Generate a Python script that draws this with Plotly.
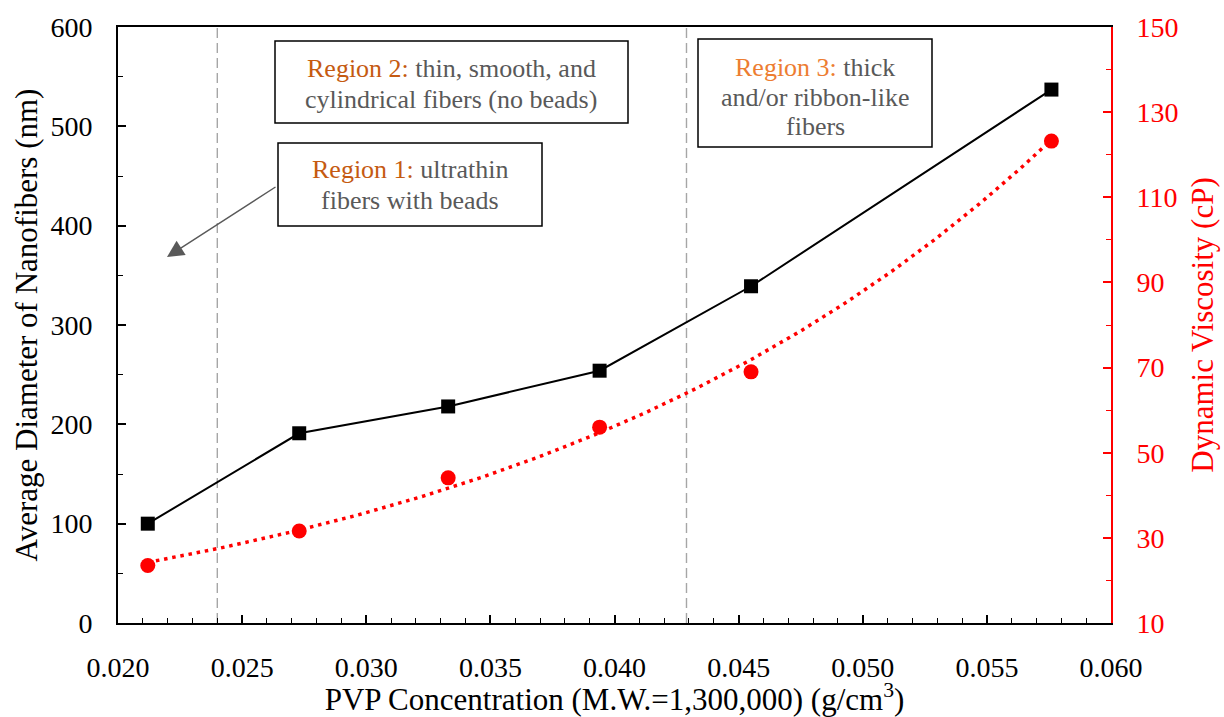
import numpy as np
import plotly.graph_objects as go

# ---- data ----
pvp_conc = [0.0212, 0.0273, 0.0333, 0.0394, 0.0455, 0.0576]
diameter_nm = [100, 191, 218, 254, 339, 537]
viscosity_cp = [23.5, 31.6, 44.1, 56.0, 69.0, 123.2]
region_bounds = [0.0240, 0.0429]

x_ticks = [0.020, 0.025, 0.030, 0.035, 0.040, 0.045, 0.050, 0.055, 0.060]
y1_ticks = [0, 100, 200, 300, 400, 500, 600]
y2_ticks = [10, 30, 50, 70, 90, 110, 130, 150]

W, H = 1224, 717
L, R, T, B = 118, 1111, 27, 623
FONT = "Liberation Serif"
GREY = "#595959"
RED = "#FF0000"


def px(x):
    return (x - L) / (R - L)


def py(y):
    return (B - y) / (B - T)


# exponential trendline (least squares on log values), as Excel does
b, ln_a = np.polyfit(pvp_conc, np.log(viscosity_cp), 1)
trend_x = np.linspace(min(pvp_conc), max(pvp_conc), 200)
trend_y = np.exp(ln_a) * np.exp(b * trend_x)

fig = go.Figure()

for xb in region_bounds:
    fig.add_shape(type="line", x0=xb, x1=xb, y0=0, y1=1, xref="x", yref="paper",
                  line=dict(color="#A6A6A6", width=1.4, dash="10px,5px"), layer="below")

fig.add_trace(go.Scatter(x=trend_x, y=trend_y, mode="lines", yaxis="y2",
                         line=dict(color=RED, width=3.5, dash="3.5px,4.8px"),
                         showlegend=False, hoverinfo="skip"))
fig.add_trace(go.Scatter(x=pvp_conc, y=viscosity_cp, mode="markers", yaxis="y2",
                         marker=dict(symbol="circle", size=15, color=RED),
                         showlegend=False))
fig.add_trace(go.Scatter(x=pvp_conc, y=diameter_nm, mode="lines+markers",
                         line=dict(color="black", width=2),
                         marker=dict(symbol="square", size=14, color="black"),
                         showlegend=False))

# annotation boxes
boxes = [
    (275, 41, 628, 123),
    (698, 39, 932, 147),
    (278, 143, 542, 226),
]
for x0, y0, x1, y1 in boxes:
    fig.add_shape(type="rect", xref="paper", yref="paper",
                  x0=px(x0), x1=px(x1), y0=py(y1), y1=py(y0),
                  line=dict(color="black", width=1.5), fillcolor="white")

DARK_OR = "<span style='color:#C55A11'>"
LIGHT_OR = "<span style='color:#ED7D31'>"
text_lines = [
    (451, 68, DARK_OR + "Region 2:</span> thin, smooth, and"),
    (451, 100, "cylindrical fibers (no beads)"),
    (815, 67, LIGHT_OR + "Region 3:</span> thick"),
    (815, 97, "and/or ribbon-like"),
    (815, 127, "fibers"),
    (410, 170, DARK_OR + "Region 1:</span> ultrathin"),
    (410, 200, "fibers with beads"),
]
for xc, yc, t in text_lines:
    fig.add_annotation(x=px(xc), y=py(yc), xref="paper", yref="paper", text=t,
                       showarrow=False, align="center", xanchor="center", yanchor="middle",
                       font=dict(family=FONT, size=26, color=GREY))

# arrow from Region 1 box
fig.add_annotation(x=px(167), y=py(257), xref="paper", yref="paper", text="",
                   showarrow=True, ax=110, ay=-71, arrowhead=2, arrowsize=2.4,
                   arrowwidth=1.4, arrowcolor=GREY)

tickfont = dict(family=FONT, size=28, color="black")
fig.update_layout(
    width=W, height=H,
    margin=dict(l=L, r=W - R, t=T, b=H - B, autoexpand=False),
    plot_bgcolor="white", paper_bgcolor="white",
    xaxis=dict(range=[0.020, 0.060], tickvals=x_ticks,
               ticktext=[f"{v:.3f}" for v in x_ticks],
               ticks="inside", ticklen=8, tickwidth=1.5, tickcolor="black",
               minor=dict(dtick=0.001, ticks="inside", ticklen=5, tickwidth=1.2,
                          tickcolor="black", showgrid=False),
               showline=True, linecolor="black", linewidth=2, mirror=True,
               showgrid=False, zeroline=False, tickfont=tickfont,
               ticklabelstandoff=18, automargin=False,
               title=dict(text="PVP Concentration (M.W.=1,300,000) (g/cm<sup>3</sup>)",
                          font=dict(family=FONT, size=31, color="black"), standoff=11)),
    yaxis=dict(range=[0, 600], tickvals=y1_ticks,
               ticks="inside", ticklen=8, tickwidth=1.5, tickcolor="black",
               minor=dict(dtick=50, ticks="inside", ticklen=5, tickwidth=1.2,
                          tickcolor="black", showgrid=False),
               showline=True, linecolor="black", linewidth=2,
               showgrid=False, zeroline=False, tickfont=tickfont,
               ticklabelstandoff=18, automargin=False,
               title=dict(text="Average Diameter of Nanofibers (nm)",
                          font=dict(family=FONT, size=31, color="black"), standoff=4)),
    yaxis2=dict(range=[10, 150], tickvals=y2_ticks, overlaying="y", side="right",
                ticks="inside", ticklen=8, tickwidth=1.5, tickcolor=RED,
                minor=dict(dtick=10, ticks="inside", ticklen=5, tickwidth=1.2,
                           tickcolor=RED, showgrid=False),
                showline=True, linecolor=RED, linewidth=2,
                showgrid=False, zeroline=False,
                tickfont=dict(family=FONT, size=28, color=RED),
                ticklabelstandoff=18, automargin=False,
                title=dict(text="Dynamic Viscosity (cP)",
                           font=dict(family=FONT, size=31, color=RED), standoff=14)),
)

fig.write_html("out.html")
